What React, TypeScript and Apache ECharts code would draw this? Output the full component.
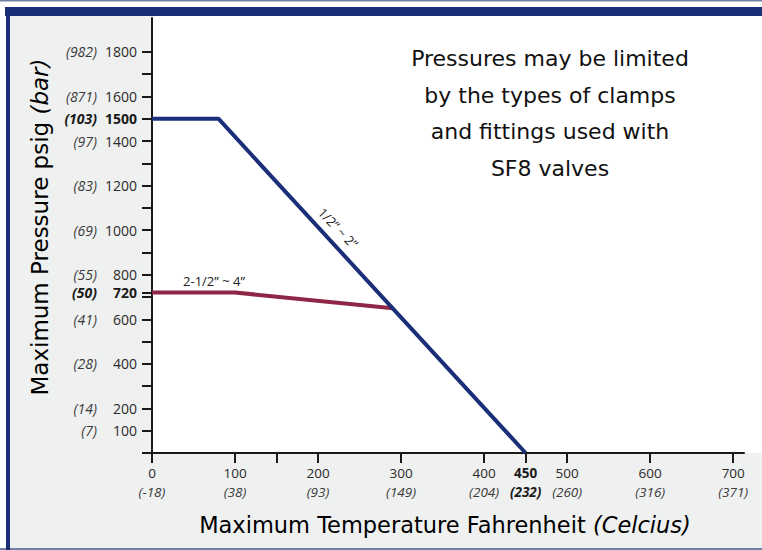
import React, { useEffect, useRef } from "react";
import * as echarts from "echarts";

// ---- data ----
const fahrenheitTicks = [0, 100, 200, 300, 400, 450, 500, 600, 700];
const celsiusLabels = ["(-18)", "(38)", "(93)", "(149)", "(204)", "(232)", "(260)", "(316)", "(371)"];
const fahrenheitTickMarks = [0, 100, 150, 200, 300, 400, 450, 500, 600, 700];
const boldFahrenheit = [450];

const psiTicks = [100, 200, 400, 600, 720, 800, 1000, 1200, 1400, 1500, 1600, 1800];
const barLabels = ["(7)", "(14)", "(28)", "(41)", "(50)", "(55)", "(69)", "(83)", "(97)", "(103)", "(871)", "(982)"];
const psiTickMarks = [0, 100, 200, 300, 400, 500, 600, 700, 720, 800, 900, 1000, 1100, 1200, 1300, 1400, 1500, 1600, 1700, 1800];
const boldPsi = [720, 1500];

const smallValveTemps = [0, 80, 450];
const smallValvePressures = [1500, 1500, 0];
const largeValveTemps = [0, 100, 290];
const largeValvePressures = [720, 720, 650];

const noteLines = [
  "Pressures may be limited",
  "by the types of clamps",
  "and fittings used with",
  "SF8 valves",
];

const NAVY = "#1b2f78";
const RED = "#8e2645";
const AXIS = "#1a1a1a";
const TICKFONT = "'Open Sans', Lato, sans-serif";
const TITLEFONT = "'DejaVu Sans', sans-serif";

export default function App() {
  const ref = useRef<HTMLDivElement>(null);

  useEffect(() => {
    if (!ref.current) return;
    const chart = echarts.init(ref.current, null, { renderer: "svg", width: 762, height: 550 });

    const tickRich = {
      v: { fontFamily: TICKFONT, fontSize: 13.5, color: "#2a2a2a", lineHeight: 19 },
      vb: { fontFamily: TICKFONT, fontSize: 13.5, color: "#1a1a1a", fontWeight: "bold", lineHeight: 19 },
      i: { fontFamily: TICKFONT, fontSize: 13.5, color: "#3a3a3a", fontStyle: "italic", lineHeight: 19 },
      ib: { fontFamily: TICKFONT, fontSize: 13.5, color: "#1a1a1a", fontStyle: "italic", fontWeight: "bold", lineHeight: 19 },
    };
    const yRich = {
      v: { fontFamily: TICKFONT, fontSize: 14, color: "#2a2a2a", width: 40, align: "right" },
      vb: { fontFamily: TICKFONT, fontSize: 14, color: "#1a1a1a", fontWeight: "bold", width: 40, align: "right" },
      i: { fontFamily: TICKFONT, fontSize: 14, color: "#3a3a3a", fontStyle: "italic", width: 40, align: "right" },
      ib: { fontFamily: TICKFONT, fontSize: 14, color: "#1a1a1a", fontStyle: "italic", fontWeight: "bold", width: 40, align: "right" },
    };

    const noteY = [58, 95, 131, 168];

    const option: any = {
      animation: false,
      backgroundColor: "#ffffff",
      grid: { left: 152, right: 18, top: 18, bottom: 97, containLabel: false, outerBoundsMode: "none" },
      xAxis: {
        type: "value",
        min: 0,
        max: 713,
        axisLine: { show: true, lineStyle: { color: AXIS, width: 2 } },
        axisTick: { show: true, length: 10, lineStyle: { color: AXIS, width: 2 }, customValues: fahrenheitTickMarks },
        splitLine: { show: false },
        axisLabel: {
          customValues: fahrenheitTicks,
          margin: 10,
          rich: tickRich,
          formatter: (val: number) => {
            const idx = fahrenheitTicks.indexOf(val);
            const b = boldFahrenheit.indexOf(val) >= 0;
            return `{${b ? "vb" : "v"}|${val}}\n{${b ? "ib" : "i"}|${celsiusLabels[idx]}}`;
          },
        },
      },
      yAxis: {
        type: "value",
        min: 0,
        max: 1952,
        axisLine: { show: true, lineStyle: { color: AXIS, width: 2 } },
        axisTick: { show: true, length: 10, lineStyle: { color: AXIS, width: 2 }, customValues: psiTickMarks },
        splitLine: { show: false },
        axisLabel: {
          customValues: psiTicks,
          margin: 15,
          rich: yRich,
          formatter: (val: number) => {
            const idx = psiTicks.indexOf(val);
            const b = boldPsi.indexOf(val) >= 0;
            return `{${b ? "ib" : "i"}|${barLabels[idx]}}{${b ? "vb" : "v"}|${val}}`;
          },
        },
      },
      series: [
        {
          type: "line",
          name: "2-1/2” ~ 4”",
          data: largeValveTemps.map((t, i) => [t, largeValvePressures[i]]),
          showSymbol: false,
          lineStyle: { color: RED, width: 4 },
          itemStyle: { color: RED },
          z: 3,
        },
        {
          type: "line",
          name: "1/2” ~ 2”",
          data: smallValveTemps.map((t, i) => [t, smallValvePressures[i]]),
          showSymbol: false,
          lineStyle: { color: NAVY, width: 4 },
          itemStyle: { color: NAVY },
          z: 4,
        },
      ],
      graphic: [
        { type: "rect", z: -3, shape: { x: 10, y: 16, width: 752, height: 532 }, style: { fill: "#eff0f0" }, silent: true },
        { type: "rect", z: -2, shape: { x: 153, y: 16, width: 609, height: 437 }, style: { fill: "#ffffff" }, silent: true },
        { type: "rect", z: 5, shape: { x: 0, y: 0, width: 762, height: 1.5 }, style: { fill: "#6f7fa8" }, silent: true },
        { type: "rect", z: 5, shape: { x: 0, y: 548, width: 762, height: 2 }, style: { fill: "#6f7fa8" }, silent: true },
        { type: "rect", z: 5, shape: { x: 5, y: 7, width: 757, height: 9 }, style: { fill: NAVY }, silent: true },
        { type: "rect", z: 5, shape: { x: 6, y: 7, width: 4, height: 543 }, style: { fill: NAVY }, silent: true },
        ...noteLines.map((t, i) => ({
          type: "text",
          z: 5,
          x: 550,
          y: noteY[i],
          style: { text: t, align: "center", verticalAlign: "middle", font: `22px ${TITLEFONT}`, fill: "#111" },
        })),
        {
          type: "text",
          z: 5,
          x: 338,
          y: 228,
          rotation: -0.8,
          style: { text: "1/2” ~ 2”", align: "center", verticalAlign: "middle", font: `13px ${TICKFONT}`, fill: "#222" },
        },
        {
          type: "text",
          z: 5,
          x: 214,
          y: 281,
          style: { text: "2-1/2” ~ 4”", align: "center", verticalAlign: "middle", font: `13px ${TICKFONT}`, fill: "#222" },
        },
        {
          type: "text",
          z: 5,
          x: 40,
          y: 227,
          rotation: Math.PI / 2,
          style: {
            text: "{a|Maximum Pressure psig }{b|(bar)}",
            align: "center",
            verticalAlign: "middle",
            rich: {
              a: { fontFamily: TITLEFONT, fontSize: 23, color: "#222" },
              b: { fontFamily: TITLEFONT, fontSize: 23, color: "#222", fontStyle: "italic" },
            },
          },
        },
        {
          type: "text",
          z: 5,
          x: 445,
          y: 525,
          style: {
            text: "{a|Maximum Temperature Fahrenheit }{b|(Celcius)}",
            align: "center",
            verticalAlign: "middle",
            rich: {
              a: { fontFamily: TITLEFONT, fontSize: 22.5, color: "#222" },
              b: { fontFamily: TITLEFONT, fontSize: 22.5, color: "#222", fontStyle: "italic" },
            },
          },
        },
      ],
    };

    chart.setOption(option);
    return () => chart.dispose();
  }, []);

  return <div ref={ref} style={{ position: "absolute", left: 0, top: 0, width: 762, height: 550 }} />;
}
